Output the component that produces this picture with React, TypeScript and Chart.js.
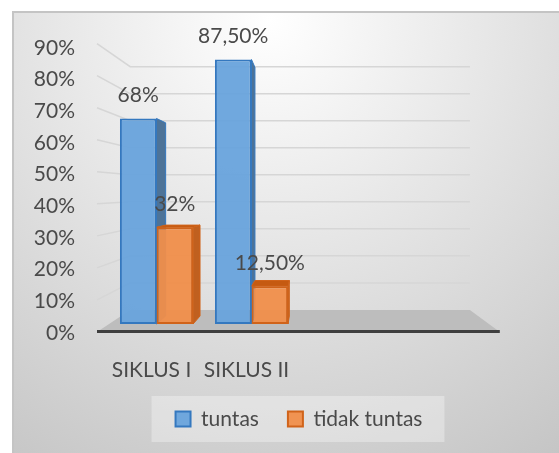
import React, { useEffect, useRef } from 'react';
import { Chart, registerables } from 'chart.js';

Chart.register(...registerables);

// ---- data ----
const categories: string[] = ['SIKLUS I', 'SIKLUS II', '', ''];
const tuntasValues: (number | null)[] = [68, 87.5, null, null];
const tidakTuntasValues: (number | null)[] = [32, 12.5, null, null];
const seriesNames: string[] = ['tuntas', 'tidak tuntas'];
const yTickValues: number[] = [0, 10, 20, 30, 40, 50, 60, 70, 80, 90];

// ---- style ----
const FONT = 'Lato, "Open Sans", "Liberation Sans", sans-serif';
const FS = 21;
const TEXT = '#4a4a4a';
const FRONT = ['rgba(104,163,220,0.95)', 'rgba(240,142,74,0.95)'];
const BORDER = ['#3478bf', '#d0631a'];
const SIDE = ['#4d7398', '#c0601f'];
const TOP = ['#3d78b8', '#c55a11'];
const K_FRONT = 1.06;
const K_BACK = 0.894;
const K_DEPTH = 0.94;

const fmt = (v: number) =>
  Number.isInteger(v) ? `${v}%` : v.toFixed(2).replace('.', ',') + '%';

function persp(chart: any) {
  const xs = chart.scales.x;
  const ys = chart.scales.y;
  const cx = xs.left + (xs.right - xs.left) * 0.526;
  const cy = ys.getPixelForValue(44);
  const P = (x: number, y: number, k: number): [number, number] => [
    cx + (x - cx) * k,
    cy + (y - cy) * k,
  ];
  return { xs, ys, cx, cy, P };
}

const scenePlugin = {
  id: 'scene3d',
  beforeDraw(chart: any) {
    const { ctx, width, height } = chart;
    ctx.save();
    ctx.fillStyle = '#ffffff';
    ctx.fillRect(0, 0, width, height);
    const g = ctx.createRadialGradient(270, 20, 0, 270, 20, 540);
    g.addColorStop(0, '#ffffff');
    g.addColorStop(1, '#c3c3c3');
    ctx.fillStyle = g;
    ctx.fillRect(13, 12, width - 13, height - 12);
    ctx.strokeStyle = '#c4c4c4';
    ctx.lineWidth = 2;
    ctx.beginPath();
    ctx.moveTo(13, height);
    ctx.lineTo(13, 12);
    ctx.lineTo(width, 12);
    ctx.stroke();

    // legend background
    const lg = chart.legend;
    if (lg && lg.legendHitBoxes && lg.legendHitBoxes.length) {
      const hb = lg.legendHitBoxes;
      const l = Math.min(...hb.map((h: any) => h.left));
      const r = Math.max(...hb.map((h: any) => h.left + h.width));
      const cyL = hb[0].top + hb[0].height / 2;
      ctx.fillStyle = 'rgba(255,255,255,0.32)';
      ctx.fillRect(l - 24, cyL - 23, r - l + 46, 46);
    }
    ctx.restore();
  },
  beforeDatasetsDraw(chart: any) {
    const { ctx } = chart;
    const { xs, ys, P, cx, cy } = persp(chart);
    ctx.save();
    // wall grid lines
    ctx.strokeStyle = '#d6d6d6';
    ctx.lineWidth = 1.5;
    yTickValues.forEach((v) => {
      if (v === 0) return;
      const y = ys.getPixelForValue(v);
      const a = P(xs.left, y, K_FRONT);
      const b = P(xs.left, y, K_BACK);
      const c = P(xs.right, y, K_BACK);
      ctx.beginPath();
      ctx.moveTo(a[0], a[1]);
      ctx.lineTo(b[0], b[1]);
      ctx.lineTo(c[0], c[1]);
      ctx.stroke();
    });
    // floor
    const y0 = ys.getPixelForValue(0);
    const f1 = P(xs.left, y0, K_FRONT);
    const f2 = P(xs.right, y0, K_FRONT);
    const f3 = P(xs.right, y0, K_BACK);
    const f4 = P(xs.left, y0, K_BACK);
    ctx.fillStyle = '#bdbdbd';
    ctx.beginPath();
    ctx.moveTo(f1[0], f1[1]);
    ctx.lineTo(f2[0], f2[1]);
    ctx.lineTo(f3[0], f3[1]);
    ctx.lineTo(f4[0], f4[1]);
    ctx.closePath();
    ctx.fill();
    ctx.strokeStyle = '#3f3f3f';
    ctx.lineWidth = 3;
    ctx.beginPath();
    ctx.moveTo(f1[0], f1[1] - 0.5);
    ctx.lineTo(f2[0], f2[1] - 0.5);
    ctx.stroke();

    // bar sides and tops
    chart.data.datasets.forEach((ds: any, di: number) => {
      const meta = chart.getDatasetMeta(di);
      meta.data.forEach((el: any, i: number) => {
        const v = ds.data[i];
        if (v === null || v === undefined) return;
        const xl = el.x - el.width / 2;
        const xr = el.x + el.width / 2;
        const top = el.y;
        const bot = el.base;
        const poly = (pts: [number, number][], fill: string) => {
          ctx.fillStyle = fill;
          ctx.beginPath();
          ctx.moveTo(pts[0][0], pts[0][1]);
          for (let j = 1; j < pts.length; j++) ctx.lineTo(pts[j][0], pts[j][1]);
          ctx.closePath();
          ctx.fill();
          ctx.strokeStyle = BORDER[di];
          ctx.lineWidth = 1;
          ctx.stroke();
        };
        if (xr < cx) {
          poly([[xr, top], P(xr, top, K_DEPTH), P(xr, bot, K_DEPTH), [xr, bot]], SIDE[di]);
        } else if (xl > cx) {
          poly([[xl, top], P(xl, top, K_DEPTH), P(xl, bot, K_DEPTH), [xl, bot]], SIDE[di]);
        }
        if (top > cy) {
          poly([[xl, top], [xr, top], P(xr, top, K_DEPTH), P(xl, top, K_DEPTH)], TOP[di]);
        }
      });
    });
    ctx.restore();
  },
  afterDatasetsDraw(chart: any) {
    const { ctx } = chart;
    ctx.save();
    ctx.fillStyle = TEXT;
    ctx.font = `${FS}px ${FONT}`;
    ctx.textAlign = 'center';
    ctx.textBaseline = 'middle';
    chart.data.datasets.forEach((ds: any, di: number) => {
      const meta = chart.getDatasetMeta(di);
      meta.data.forEach((el: any, i: number) => {
        const v = ds.data[i];
        if (v === null || v === undefined) return;
        ctx.fillText(fmt(v), el.x, el.y - 23);
      });
    });
    ctx.restore();
  },
};

export default function App() {
  const ref = useRef<HTMLCanvasElement | null>(null);
  useEffect(() => {
    if (!ref.current) return;
    Chart.defaults.font.family = FONT;
    const chart = new Chart(ref.current, {
      type: 'bar',
      data: {
        labels: categories,
        datasets: [
          {
            label: seriesNames[0],
            data: tuntasValues,
            backgroundColor: FRONT[0],
            borderColor: BORDER[0],
            borderWidth: 2,
            borderSkipped: false,
            categoryPercentage: 0.77,
            barPercentage: 1.0,
            yAxisID: 'y',
          },
          {
            label: seriesNames[1],
            data: tidakTuntasValues,
            backgroundColor: FRONT[1],
            borderColor: BORDER[1],
            borderWidth: 2,
            borderSkipped: false,
            categoryPercentage: 0.77,
            barPercentage: 1.0,
            yAxisID: 'y',
          },
        ],
      },
      options: {
        responsive: false,
        animation: false,
        layout: { padding: { left: 13, right: 70, top: 48, bottom: 13.5 } },
        scales: {
          x: {
            grid: { display: false, drawTicks: false },
            border: { display: false },
            ticks: { color: TEXT, font: { size: FS, family: FONT }, padding: 24.4, labelOffset: -5 },
            afterFit: (s: any) => { s.height = 46.5; },
          },
          y: {
            display: false,
            min: -2.98,
            max: 91.32,
          },
          y2: {
            position: 'left',
            min: 0,
            max: 90,
            grid: { display: false, drawTicks: false },
            border: { display: false },
            ticks: {
              stepSize: 10,
              color: TEXT,
              padding: 34,
              font: { size: FS, family: FONT },
              callback: (v: any) => `${v}%`,
            },
            afterFit: (s: any) => { s.width = 96; },
          },
        },
        plugins: {
          legend: {
            position: 'bottom',
            fullSize: false,
            labels: {
              boxWidth: 15,
              boxHeight: 15,
              padding: 29,
              color: TEXT,
              font: { size: FS, family: FONT },
            },
          },
          tooltip: { enabled: false },
        },
      },
      plugins: [scenePlugin],
    });
    return () => chart.destroy();
  }, []);
  return (
    <div style={{ position: 'absolute', left: 0, top: 0, width: 559, height: 453 }}>
      <canvas ref={ref} width={559} height={453} style={{ display: 'block' }} />
    </div>
  );
}
